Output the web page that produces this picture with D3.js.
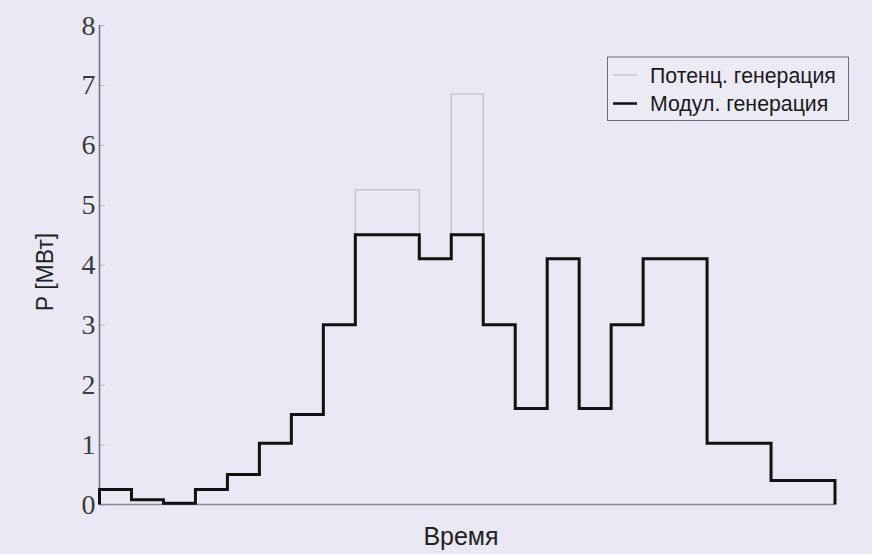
<!DOCTYPE html>
<html>
<head>
<meta charset="utf-8">
<script src="https://cdn.jsdelivr.net/npm/d3@7/dist/d3.min.js"></script>
<style>
  html, body { margin: 0; padding: 0; background: #eae8f4; }
  svg { display: block; }
</style>
</head>
<body>
<svg id="chart" width="872" height="554"></svg>
<script>
// Hourly generation, MW
const hours = d3.range(23);
const modulated = [0.25, 0.08, 0.02, 0.25, 0.5, 1.02, 1.5, 3.0, 4.5, 4.5, 4.1, 4.5,
                   3.0, 1.6, 4.1, 1.6, 3.0, 4.1, 4.1, 1.02, 1.02, 0.4, 0.4];
const potential = [0.25, 0.08, 0.02, 0.25, 0.5, 1.02, 1.5, 3.0, 5.25, 5.25, 4.1, 6.85,
                   3.0, 1.6, 4.1, 1.6, 3.0, 4.1, 4.1, 1.02, 1.02, 0.4, 0.4];
const yTicks = [0, 1, 2, 3, 4, 5, 6, 7, 8];
const seriesNames = ["Потенц. генерация", "Модул. генерация"];
const xTitle = "Время";
const yTitle = "P [МВт]";

const svg = d3.select("#chart");
const plotLeft = 99.5, plotRight = 835, plotTop = 25, plotBottom = 504.5;

const x = d3.scaleLinear().domain([0, hours.length]).range([plotLeft, plotRight]);
const y = d3.scaleLinear().domain([0, 8]).range([plotBottom, plotTop]);

// step path: rises from the axis, follows each hour, drops back at the end
function stepPath(vals) {
  const pts = [[0, 0]];
  vals.forEach((v, i) => pts.push([i, v]));
  pts.push([vals.length, vals[vals.length - 1]]);
  pts.push([vals.length, 0]);
  return d3.line().x(d => x(d[0])).y(d => y(d[1])).curve(d3.curveStepAfter)(pts);
}

// y axis with inward ticks
const yAxis = svg.append("g").attr("transform", `translate(${plotLeft},0)`)
  .call(d3.axisRight(y).tickValues(yTicks).tickSize(5).tickFormat(""));
yAxis.select(".domain").remove();
yAxis.selectAll(".tick line").attr("stroke", "#b4b4bc").attr("stroke-width", 1);

svg.append("g").selectAll("text").data(yTicks).join("text")
  .attr("x", plotLeft - 4)
  .attr("y", d => y(d))
  .attr("dy", "0.34em")
  .attr("text-anchor", "end")
  .attr("font-family", "'Liberation Serif', 'DejaVu Serif', serif")
  .attr("font-size", 28)
  .attr("fill", "#3a3a3a")
  .text(d => d);

// axis lines
svg.append("line").attr("x1", plotLeft).attr("x2", plotLeft).attr("y1", plotTop).attr("y2", plotBottom)
  .attr("stroke", "#6e6e74").attr("stroke-width", 1.5);
svg.append("line").attr("x1", plotLeft).attr("x2", plotRight).attr("y1", plotBottom).attr("y2", plotBottom)
  .attr("stroke", "#8a8a90").attr("stroke-width", 1.5);

// series
svg.append("path").attr("d", stepPath(potential))
  .attr("fill", "none").attr("stroke", "#c6c6ce").attr("stroke-width", 1.5);
svg.append("path").attr("d", stepPath(modulated))
  .attr("fill", "none").attr("stroke", "#111").attr("stroke-width", 3)
  .attr("stroke-linejoin", "miter");

// axis titles
svg.append("text")
  .attr("x", 461).attr("y", 545)
  .attr("text-anchor", "middle")
  .attr("font-family", "'Liberation Sans', Arial, sans-serif")
  .attr("font-size", 25).attr("fill", "#222")
  .text(xTitle);

svg.append("text")
  .attr("transform", "translate(53,272) rotate(-90)")
  .attr("text-anchor", "middle")
  .attr("font-family", "'Liberation Sans', Arial, sans-serif")
  .attr("font-size", 23).attr("fill", "#222")
  .text(yTitle);

// legend
const lg = svg.append("g");
lg.append("rect").attr("x", 607.5).attr("y", 57).attr("width", 241).attr("height", 63.5)
  .attr("fill", "#eceaf5").attr("stroke", "#6e6e74").attr("stroke-width", 1);
const lgColors = ["#c6c6ce", "#111"];
const lgWidths = [1.5, 2.5];
seriesNames.forEach((name, i) => {
  const cy = 75 + i * 28.5;
  lg.append("line").attr("x1", 613).attr("x2", 637).attr("y1", cy).attr("y2", cy)
    .attr("stroke", lgColors[i]).attr("stroke-width", lgWidths[i]);
  lg.append("text").attr("x", 650).attr("y", cy).attr("dy", "0.36em")
    .attr("font-family", "'Liberation Sans', Arial, sans-serif")
    .attr("font-size", 21.3).attr("fill", "#1a1a1a")
    .text(name);
});
</script>
</body>
</html>
